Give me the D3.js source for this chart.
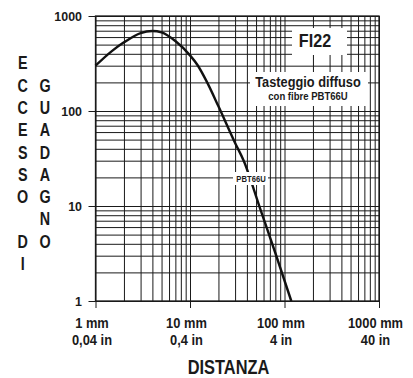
<!DOCTYPE html>
<html>
<head>
<meta charset="utf-8">
<script src="https://cdn.jsdelivr.net/npm/d3@7"></script>
<style>
  html, body { margin: 0; padding: 0; background: #fff; }
  svg { display: block; }
  text { font-family: "Liberation Sans", Arial, sans-serif; font-weight: bold; fill: #1a1a1a; }
</style>
</head>
<body>
<figure id="chart" style="margin:0"></figure>
<script>
// data (distance in mm, gain factor)
const distMm = [1, 1.5, 2, 3, 4, 5, 7, 10, 12, 15, 20, 30, 37, 55, 80, 118];
const gain = [300, 430, 528, 662, 695, 673, 545, 385, 305, 205, 112, 46, 30, 9.5, 3.2, 1];

const yTicks = [1, 10, 100, 1000];
const xTicks = [1, 10, 100, 1000];
const xTickMm = ["1 mm", "10 mm", "100 mm", "1000 mm"];
const xTickIn = ["0,04 in", "0,4 in", "4 in", "40 in"];
const yTitleA = ["E", "C", "C", "E", "S", "S", "O", "", "D", "I"];
const yTitleB = ["", "G", "U", "A", "D", "A", "G", "N", "O"];

const W = 413, H = 378;
const mLeft = 95.5, mRight = 379, mTop = 16, mBottom = 301;

const svg = d3.select("#chart").append("svg")
  .attr("width", W).attr("height", H);

const x = d3.scaleLog().domain([1, 1000]).range([mLeft, mRight]);
const y = d3.scaleLog().domain([1, 1000]).range([mBottom, mTop]);

// condensed look: squeeze text horizontally around its anchor
const squeeze = (tx, ty, s) => "translate(" + tx + "," + ty + ") scale(" + s + ",1)";

// minor + major grid values 1..1000
const gridVals = [];
[1, 10, 100].forEach(d => { for (let k = 1; k < 10; k++) gridVals.push(d * k); });
gridVals.push(1000);

// grid
svg.append("g")
  .attr("transform", "translate(0," + mBottom + ")")
  .call(d3.axisBottom(x).tickValues(gridVals).tickSize(-(mBottom - mTop)).tickFormat(""))
  .call(g => g.select(".domain").remove())
  .selectAll("line").attr("stroke", "#1a1a1a").attr("stroke-width", 1);

svg.append("g")
  .attr("transform", "translate(" + mLeft + ",0)")
  .call(d3.axisLeft(y).tickValues(gridVals).tickSize(-(mRight - mLeft)).tickFormat(""))
  .call(g => g.select(".domain").remove())
  .selectAll("line").attr("stroke", "#1a1a1a").attr("stroke-width", 1);

// decade ticks sticking out of the frame
svg.append("g")
  .attr("transform", "translate(0," + mBottom + ")")
  .call(d3.axisBottom(x).tickValues(xTicks).tickSize(7).tickFormat(""))
  .call(g => g.select(".domain").remove())
  .selectAll("line").attr("stroke", "#1a1a1a");

svg.append("g")
  .attr("transform", "translate(" + mLeft + ",0)")
  .call(d3.axisLeft(y).tickValues(yTicks).tickSize(7).tickFormat(""))
  .call(g => g.select(".domain").remove())
  .selectAll("line").attr("stroke", "#1a1a1a");

// frame
svg.append("rect")
  .attr("x", mLeft).attr("y", mTop)
  .attr("width", mRight - mLeft).attr("height", mBottom - mTop)
  .attr("fill", "none").attr("stroke", "#1a1a1a").attr("stroke-width", 1.3);

// y tick labels
svg.selectAll(".ylab").data(yTicks).enter().append("text")
  .attr("transform", d => squeeze(82, y(d), 0.92)).attr("dy", "0.36em")
  .attr("text-anchor", "end").attr("font-size", 13.5)
  .text(d => d);

// x tick labels (two rows)
svg.selectAll(".xmm").data(xTicks).enter().append("text")
  .attr("transform", d => squeeze(x(d) - 3.5, 328, 0.92))
  .attr("text-anchor", "middle").attr("font-size", 14)
  .text((d, i) => xTickMm[i]);
svg.selectAll(".xin").data(xTicks).enter().append("text")
  .attr("transform", d => squeeze(x(d) - 3.5, 345, 0.92))
  .attr("text-anchor", "middle").attr("font-size", 14)
  .text((d, i) => xTickIn[i]);

// axis titles
svg.append("text")
  .attr("transform", squeeze(228.5, 374, 0.8))
  .attr("text-anchor", "middle").attr("font-size", 20.5)
  .text("DISTANZA");

svg.selectAll(".ta").data(yTitleA).enter().append("text")
  .attr("transform", (d, i) => squeeze(22.7, 63 + i * 22.3, 0.82)).attr("dy", "0.36em")
  .attr("text-anchor", "middle").attr("font-size", 17.5)
  .text(d => d);
svg.selectAll(".tb").data(yTitleB).enter().append("text")
  .attr("transform", (d, i) => squeeze(45, 63 + i * 22.3, 0.82)).attr("dy", "0.36em")
  .attr("text-anchor", "middle").attr("font-size", 17.5)
  .text(d => d);

// curve
const line = d3.line()
  .x((d, i) => x(distMm[i]))
  .y(d => y(d))
  .curve(d3.curveMonotoneX);

svg.append("path")
  .datum(gain)
  .attr("d", line)
  .attr("fill", "none")
  .attr("stroke", "#111")
  .attr("stroke-width", 2.4);

// boxed labels
svg.append("rect").attr("x", 292).attr("y", 28).attr("width", 55).attr("height", 27).attr("fill", "#fff");
svg.append("text")
  .attr("transform", squeeze(315, 47, 0.85)).attr("text-anchor", "middle").attr("font-size", 19)
  .text("FI22");

svg.append("rect").attr("x", 250).attr("y", 72).attr("width", 118).attr("height", 34).attr("fill", "#fff");
svg.append("text")
  .attr("transform", squeeze(308, 87, 0.9)).attr("text-anchor", "middle").attr("font-size", 14.2)
  .text("Tasteggio diffuso");
svg.append("text")
  .attr("transform", squeeze(308, 100, 0.9)).attr("text-anchor", "middle").attr("font-size", 10.6)
  .text("con fibre PBT66U");

svg.append("rect").attr("x", 233).attr("y", 172).attr("width", 35).attr("height", 13).attr("fill", "#fff");
svg.append("text")
  .attr("transform", squeeze(251, 182, 0.85)).attr("text-anchor", "middle").attr("font-size", 9)
  .text("PBT66U");
</script>
</body>
</html>
